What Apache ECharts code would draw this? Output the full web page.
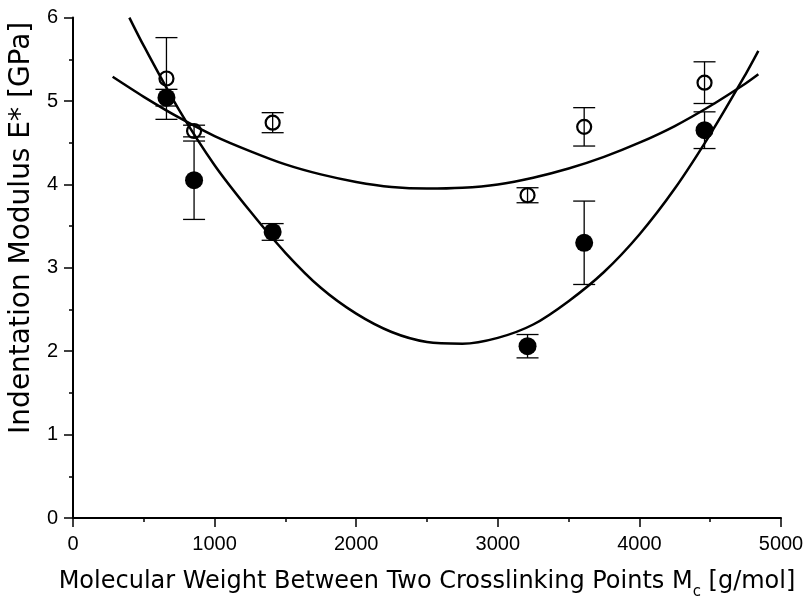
<!DOCTYPE html>
<html>
<head>
<meta charset="utf-8">
<script src="https://cdn.jsdelivr.net/npm/echarts@6/dist/echarts.min.js"></script>
<style>html,body{margin:0;padding:0;background:#fff;}#chart{width:806px;height:598px;}</style>
</head>
<body>
<div id="chart"></div>
<script>
// Measured points
const mcValues = [660, 855, 1410, 3210, 3610, 4460];
const openE = [5.27, 4.64, 4.74, 3.87, 4.69, 5.22];
const openErr = [0.49, 0.07, 0.12, 0.09, 0.23, 0.25];
const filledE = [5.04, 4.05, 3.43, 2.06, 3.30, 4.65];
const filledErr = [0.10, 0.47, 0.10, 0.14, 0.50, 0.22];

// Fit curves
const openFitX = [280, 500, 750, 1000, 1250, 1500, 1750, 2000, 2250, 2500, 2750, 3000, 3250, 3500, 3750, 4000, 4250, 4500, 4750, 4840];
const openFitY = [5.29, 5.05, 4.80, 4.58, 4.40, 4.24, 4.12, 4.03, 3.97, 3.95, 3.96, 4.00, 4.08, 4.19, 4.33, 4.50, 4.70, 4.94, 5.21, 5.32];
const filledFitX = [398, 500, 750, 1000, 1250, 1500, 1750, 2000, 2250, 2500, 2750, 3000, 3250, 3500, 3750, 4000, 4250, 4500, 4750, 4840];
const filledFitY = [6.00, 5.66, 4.89, 4.23, 3.68, 3.18, 2.76, 2.45, 2.23, 2.11, 2.09, 2.16, 2.32, 2.60, 2.95, 3.40, 3.95, 4.60, 5.32, 5.60];

// Axis ticks
const xTicks = [0, 1000, 2000, 3000, 4000, 5000];
const yTicks = [0, 1, 2, 3, 4, 5, 6];

const FONT = 'Liberation Sans, Arial, Helvetica, sans-serif';
const TITLE_FONT = 'DejaVu Sans, sans-serif';
const zip = (a, b) => a.map((v, i) => [v, b[i]]);

function errorBarSeries(xs, ys, es) {
  return {
    type: 'custom',
    z: 1,
    data: xs.map((x, i) => [x, ys[i] - es[i], ys[i] + es[i]]),
    renderItem: function (params, api) {
      const lo = api.coord([api.value(0), api.value(1)]);
      const hi = api.coord([api.value(0), api.value(2)]);
      const hw = 11;
      const st = { stroke: '#000', lineWidth: 1.3 };
      return {
        type: 'group',
        children: [
          { type: 'line', shape: { x1: lo[0], y1: lo[1], x2: hi[0], y2: hi[1] }, style: st },
          { type: 'line', shape: { x1: lo[0] - hw, y1: lo[1], x2: lo[0] + hw, y2: lo[1] }, style: st },
          { type: 'line', shape: { x1: hi[0] - hw, y1: hi[1], x2: hi[0] + hw, y2: hi[1] }, style: st }
        ]
      };
    },
    silent: true
  };
}

const chart = echarts.init(document.getElementById('chart'), null, { renderer: 'canvas' });
chart.setOption({
  animation: false,
  backgroundColor: '#fff',
  grid: { left: 73, right: 25, top: 17.6, bottom: 80, containLabel: false, outerBoundsMode: 'none' },
  xAxis: {
    type: 'value', min: xTicks[0], max: xTicks[xTicks.length - 1], interval: 1000,
    splitLine: { show: false },
    axisLine: { lineStyle: { color: '#000', width: 2 } },
    axisTick: { length: 9, lineStyle: { color: '#000', width: 1.5 } },
    minorTick: { show: true, splitNumber: 2, length: 4, lineStyle: { color: '#000', width: 1.5 } },
    axisLabel: { color: '#000', fontSize: 20, fontFamily: FONT, margin: 16, formatter: v => String(v) },
    name: 'Molecular Weight Between Two Crosslinking Points M{s|c} [g/mol]',
    nameLocation: 'middle', nameGap: 45,
    nameTextStyle: {
      color: '#000', fontSize: 24, fontFamily: TITLE_FONT,
      rich: { s: { fontSize: 15, fontFamily: TITLE_FONT, color: '#000', padding: [22, 0, 0, 0] } }
    }
  },
  yAxis: {
    type: 'value', min: yTicks[0], max: yTicks[yTicks.length - 1], interval: 1,
    splitLine: { show: false },
    axisLine: { lineStyle: { color: '#000', width: 2 } },
    axisTick: { length: 9, lineStyle: { color: '#000', width: 1.5 } },
    minorTick: { show: true, splitNumber: 2, length: 4, lineStyle: { color: '#000', width: 1.5 } },
    axisLabel: { color: '#000', fontSize: 20, fontFamily: FONT, margin: 15 },
    name: 'Indentation Modulus E* [GPa]',
    nameLocation: 'middle', nameGap: 36,
    nameTextStyle: { color: '#000', fontSize: 28, fontFamily: TITLE_FONT, padding: [0, 0, 0, 80] }
  },
  series: [
    errorBarSeries(mcValues, openE, openErr),
    errorBarSeries(mcValues, filledE, filledErr),
    {
      type: 'line', data: zip(openFitX, openFitY), showSymbol: false, smooth: 0.3,
      lineStyle: { color: '#000', width: 2.5 }, z: 2, silent: true
    },
    {
      type: 'line', data: zip(filledFitX, filledFitY), showSymbol: false, smooth: 0.3,
      lineStyle: { color: '#000', width: 2.5 }, z: 2, silent: true
    },
    {
      type: 'scatter', data: zip(mcValues, filledE), symbol: 'circle', symbolSize: 18,
      itemStyle: { color: '#000', opacity: 1 }, z: 3
    },
    {
      type: 'scatter', data: zip(mcValues, openE), symbol: 'circle', symbolSize: 14,
      itemStyle: { color: 'rgba(0,0,0,0)', borderColor: '#000', borderWidth: 2.2, opacity: 1 }, z: 4
    }
  ]
});
</script>
</body>
</html>
